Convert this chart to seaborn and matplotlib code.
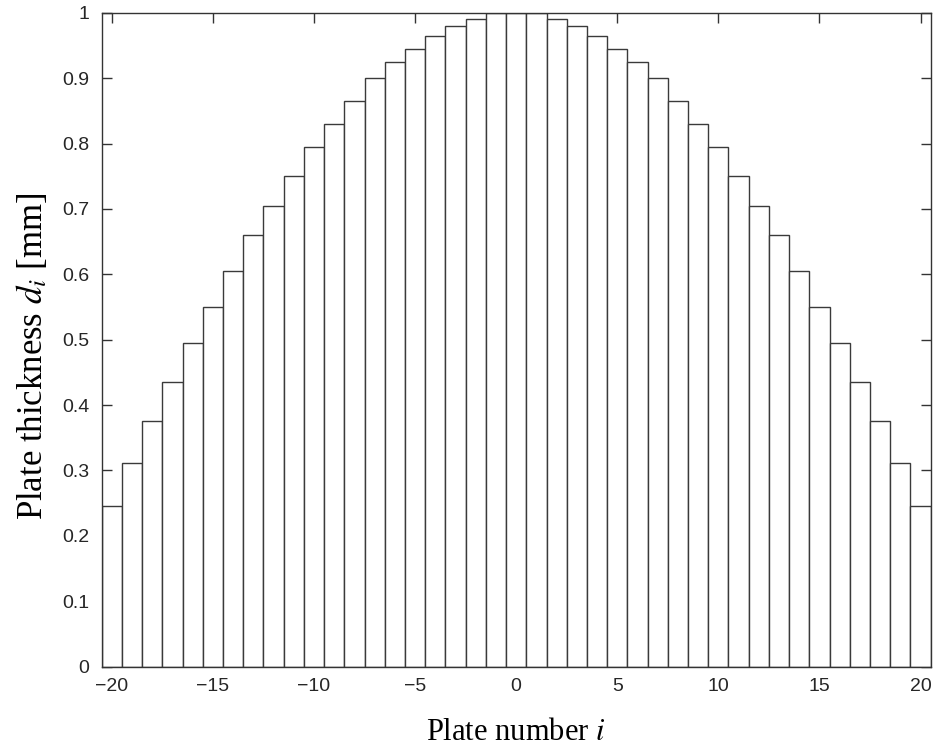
import numpy as np
import pandas as pd
import matplotlib
matplotlib.use("Agg")
import matplotlib.pyplot as plt
import seaborn as sns

# Data
plates = list(range(-20, 21))
half_thickness = [0.245, 0.311, 0.375, 0.435, 0.495, 0.550, 0.605, 0.660, 0.705, 0.750,
                  0.795, 0.830, 0.865, 0.900, 0.925, 0.945, 0.965, 0.980, 0.990, 1.000]
center_thickness = [1.000]
thickness = half_thickness + center_thickness + half_thickness[::-1]

x_ticks = [-20, -15, -10, -5, 0, 5, 10, 15, 20]
y_ticks = [0, 0.1, 0.2, 0.3, 0.4, 0.5, 0.6, 0.7, 0.8, 0.9, 1]
y_tick_labels = ["0", "0.1", "0.2", "0.3", "0.4", "0.5", "0.6", "0.7", "0.8", "0.9", "1"]

df = pd.DataFrame({"plate": plates, "thickness": thickness})

sns.set_style("white")
plt.rcParams["font.family"] = ["Liberation Sans", "DejaVu Sans"]
plt.rcParams["mathtext.fontset"] = "stix"

fig = plt.figure(figsize=(9.38, 7.48), dpi=100)
ax = fig.add_axes([0.1084, 0.1087, 0.9922 - 0.1084, 0.983 - 0.1087])

sns.barplot(data=df, x="plate", y="thickness", native_scale=True, width=1.0,
            color="white", edgecolor="#3a3a3a", linewidth=1.0, ax=ax,
            saturation=1, errorbar=None)

ax.set_xlim(-20.5, 20.5)
ax.set_ylim(0, 1)
ax.set_xticks(x_ticks)
ax.set_xticklabels([str(t).replace("-", "\u2212") for t in x_ticks])
ax.set_yticks(y_ticks)
ax.set_yticklabels(y_tick_labels)

for s in ax.spines.values():
    s.set_visible(True)
    s.set_color("#333333")
    s.set_linewidth(1.0)

ax.tick_params(axis="both", which="both", direction="in", length=7, width=1.0,
               color="#333333", labelcolor="#262626", labelsize=14,
               top=True, right=True, bottom=True, left=True)
ax.tick_params(axis="x", pad=8)
ax.tick_params(axis="y", pad=9)

serif = ["Liberation Serif", "DejaVu Serif"]
ax.set_xlabel("Plate number $\\it{i}$", fontsize=22, family=serif, color="black", labelpad=17)
ax.set_ylabel("Plate thickness $d_i$ [mm]", fontsize=25, family=serif, color="black")
ax.yaxis.set_label_coords(-0.062, 0.475)

fig.savefig("out.png", dpi=100)
